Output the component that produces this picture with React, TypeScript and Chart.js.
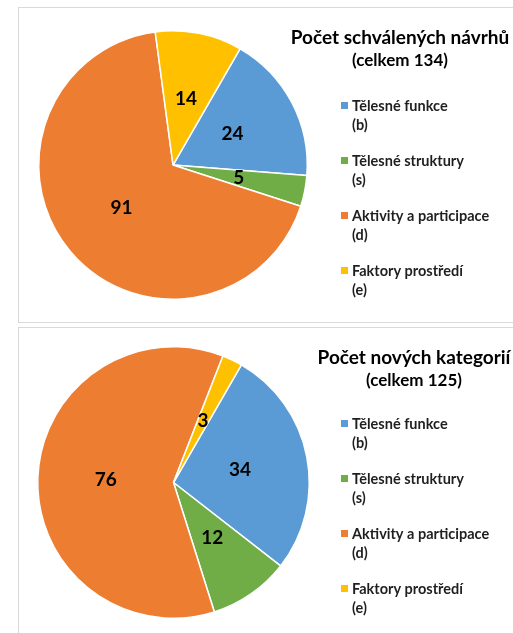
import React, { useEffect, useRef } from "react";
import { Chart, registerables } from "chart.js";

Chart.register(...registerables);

const categories = ["Tělesné funkce", "Tělesné struktury", "Aktivity a participace", "Faktory prostředí"];
const categoryCodes = ["(b)", "(s)", "(d)", "(e)"];
const colors = ["#5B9BD5", "#70AD47", "#ED7D31", "#FFC000"];

const approvedTitle = ["Počet schválených návrhů", "(celkem 134)"];
const approvedValues = [24, 5, 91, 14];

const newTitle = ["Počet nových kategorií", "(celkem 125)"];
const newValues = [34, 12, 76, 3];

const FONT = "Lato, 'Open Sans', sans-serif";

type PanelProps = {
  values: number[];
  title: string[];
  top: number;
  height: number;
  titleX: number;
  titleY: number;
  legendY: number;
  pad: { left: number; top: number; size: number };
};

function PiePanel({ values, title, top, height, titleX, titleY, legendY, pad }: PanelProps) {
  const ref = useRef<HTMLCanvasElement | null>(null);
  useEffect(() => {
    const canvas = ref.current;
    if (!canvas) return;
    const cw = 494;
    const ch = height - 2;
    const overlay = {
      id: "overlay",
      afterDraw(chart: any) {
        const ctx = chart.ctx as CanvasRenderingContext2D;
        ctx.save();
        // data labels
        const meta = chart.getDatasetMeta(0);
        ctx.font = `bold 19px ${FONT}`;
        ctx.fillStyle = "#000000";
        ctx.textAlign = "center";
        ctx.textBaseline = "middle";
        meta.data.forEach((arc: any, i: number) => {
          const p = arc.tooltipPosition();
          ctx.fillText(String(values[i]), p.x, p.y);
        });
        // title
        ctx.font = `bold 19px ${FONT}`;
        ctx.fillStyle = "#000000";
        ctx.fillText(title[0], titleX, titleY);
        ctx.font = `bold 17px ${FONT}`;
        ctx.fillText(title[1], titleX, titleY + 23);
        // legend
        ctx.textAlign = "left";
        ctx.font = `bold 14.5px ${FONT}`;
        categories.forEach((c, i) => {
          const y = legendY + i * 55;
          ctx.fillStyle = colors[i];
          ctx.fillRect(322, y - 4, 7, 7);
          ctx.fillStyle = "#1f1f1f";
          ctx.fillText(c, 333, y);
          ctx.fillText(categoryCodes[i], 333, y + 19);
        });
        ctx.restore();
      },
    };
    const chart = new Chart(canvas, {
      type: "pie",
      data: {
        labels: categories,
        datasets: [
          {
            data: values,
            backgroundColor: colors,
            borderColor: "#ffffff",
            borderWidth: 1.5,
            hoverOffset: 0,
          },
        ],
      },
      options: {
        responsive: false,
        animation: false,
        rotation: 30,
        layout: {
          padding: {
            left: pad.left,
            top: pad.top,
            right: cw - pad.left - pad.size,
            bottom: ch - pad.top - pad.size,
          },
        },
        plugins: {
          legend: { display: false },
          title: { display: false },
          tooltip: { enabled: false },
        },
      },
      plugins: [overlay],
    });
    return () => chart.destroy();
  }, [values, title, height, titleX, titleY, legendY, pad]);

  return (
    <div
      style={{
        position: "absolute",
        left: 18,
        top,
        width: 513 - 18,
        height,
        borderLeft: "1px solid #d9d9d9",
        borderTop: "1px solid #d9d9d9",
        borderBottom: "1px solid #d9d9d9",
        boxSizing: "border-box",
        background: "#ffffff",
      }}
    >
      <canvas ref={ref} width={494} height={height - 2} style={{ display: "block" }} />
    </div>
  );
}

const pad1 = { left: 19, top: 22, size: 270 };
const pad2 = { left: 18, top: 18, size: 273 };

export default function App() {
  return (
    <div style={{ position: "fixed", left: 0, top: 0, width: 513, height: 633, background: "#ffffff", overflow: "hidden" }}>
      <PiePanel values={approvedValues} title={approvedTitle} top={7} height={316} titleX={381} titleY={30} legendY={98} pad={pad1} />
      <PiePanel values={newValues} title={newTitle} top={327} height={320} titleX={395} titleY={30} legendY={96} pad={pad2} />
    </div>
  );
}
